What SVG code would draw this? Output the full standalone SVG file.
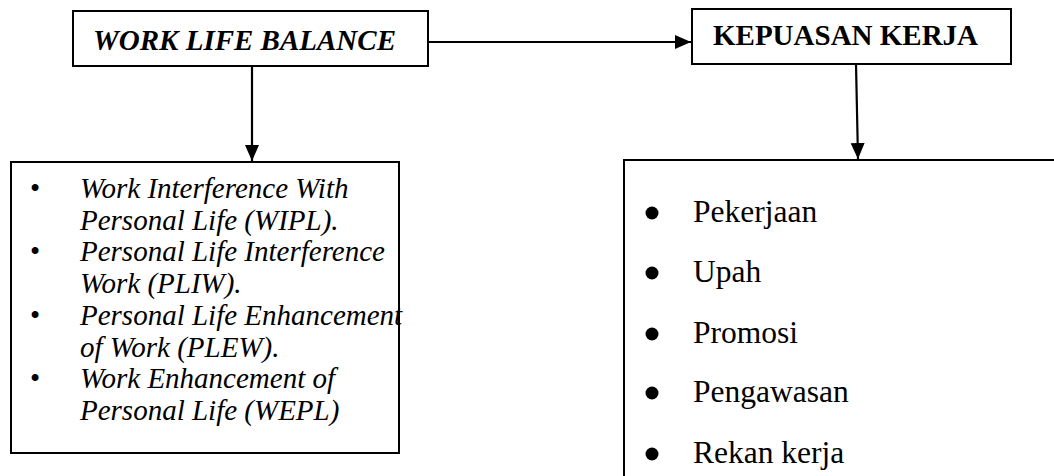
<svg xmlns="http://www.w3.org/2000/svg" width="1054" height="476" viewBox="0 0 1054 476">
<style>
.box{fill:#fff;stroke:#000;stroke-width:2}
.ln{fill:none;stroke:#000;stroke-width:2.2}
.t{font-family:"Liberation Serif","Times New Roman",serif;fill:#000}
.title{font-size:29px;font-weight:bold}
.it{font-size:29px;font-style:italic}
.rt{font-size:31.5px}
</style>
<defs>
<marker id="ah" markerUnits="userSpaceOnUse" markerWidth="18" markerHeight="16" refX="16" refY="7" orient="auto">
<path d="M0,0 L16,7 L0,14 Z" fill="#000"/>
</marker>
</defs>
<rect width="1054" height="476" fill="#fff"/>
<g id="connectors">
<line class="ln" x1="428" y1="42" x2="691" y2="42" marker-end="url(#ah)"/>
<line class="ln" x1="252" y1="66" x2="252" y2="161" marker-end="url(#ah)"/>
<line class="ln" x1="856" y1="64" x2="858" y2="159" marker-end="url(#ah)"/>
</g>
<g id="wlb">
<rect class="box" x="73" y="11" width="355" height="55"/>
<text class="t title" x="93" y="50" font-style="italic">WORK LIFE BALANCE</text>
</g>
<g id="kepuasan">
<rect class="box" x="692" y="9" width="319" height="55"/>
<text class="t title" x="713" y="45">KEPUASAN KERJA</text>
</g>
<g id="wlb-dimensions">
<rect class="box" x="11" y="162" width="388" height="291"/>
<g class="t it">
<text x="35" y="198" text-anchor="middle" font-style="normal">•</text>
<text x="80" y="198">Work Interference With</text>
<text x="80" y="230">Personal Life (WIPL).</text>
<text x="35" y="261" text-anchor="middle" font-style="normal">•</text>
<text x="80" y="261">Personal Life Interference</text>
<text x="80" y="293">Work (PLIW).</text>
<text x="35" y="325" text-anchor="middle" font-style="normal">•</text>
<text x="80" y="325">Personal Life Enhancement</text>
<text x="80" y="357">of Work (PLEW).</text>
<text x="35" y="388" text-anchor="middle" font-style="normal">•</text>
<text x="80" y="388">Work Enhancement of</text>
<text x="80" y="420">Personal Life (WEPL)</text>
</g>
</g>
<g id="kepuasan-dimensions">
<rect class="box" x="624" y="160" width="440" height="330"/>
<g fill="#000">
<circle cx="652" cy="213" r="6.5"/>
<circle cx="652" cy="273" r="6.5"/>
<circle cx="652" cy="334" r="6.5"/>
<circle cx="652" cy="393" r="6.5"/>
<circle cx="652" cy="454" r="6.5"/>
</g>
<g class="t rt">
<text x="693" y="222">Pekerjaan</text>
<text x="693" y="282">Upah</text>
<text x="693" y="343">Promosi</text>
<text x="693" y="402">Pengawasan</text>
<text x="693" y="463">Rekan kerja</text>
</g>
</g>
</svg>
